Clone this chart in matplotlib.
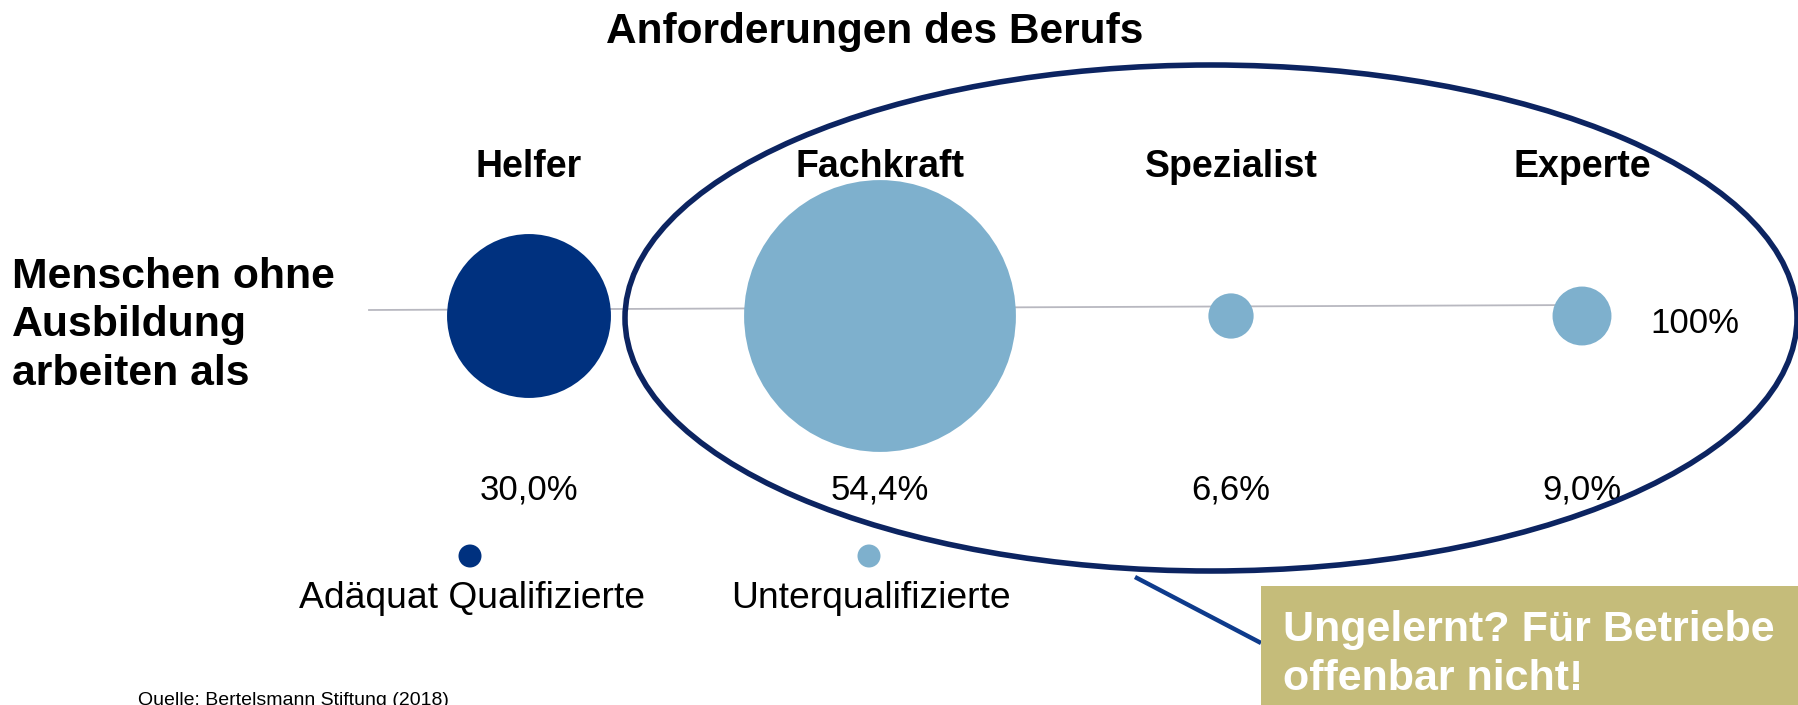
import numpy as np
import matplotlib
matplotlib.use("Agg")
import matplotlib.pyplot as plt
from matplotlib.patches import Ellipse, Rectangle

# Daten
categories = ["Helfer", "Fachkraft", "Spezialist", "Experte"]
shares = [30.0, 54.4, 6.6, 9.0]
share_labels = ["30,0%", "54,4%", "6,6%", "9,0%"]
groups = ["Adäquat Qualifizierte", "Unterqualifizierte", "Unterqualifizierte", "Unterqualifizierte"]
legend_labels = ["Adäquat Qualifizierte", "Unterqualifizierte"]
total_label = "100%"
row_title = ["Menschen ohne", "Ausbildung", "arbeiten als"]
callout = ["Ungelernt? Für Betriebe", "offenbar nicht!"]

DARK = "#00317F"
LIGHT = "#7EB0CD"
NAVY = "#0C2461"
colors = {"Adäquat Qualifizierte": DARK, "Unterqualifizierte": LIGHT}

plt.rcParams["font.family"] = ["Liberation Sans", "DejaVu Sans"]

W, H, DPI = 1798, 705, 100
fig = plt.figure(figsize=(W / DPI, H / DPI), dpi=DPI)
ax = fig.add_axes([0, 0, 1, 1])
ax.set_xlim(0, W)
ax.set_ylim(H, 0)
ax.axis("off")

# Layout (Pixel)
cat_x = 529 + 351 * np.arange(len(categories))
row_y = 316
px2pt = 72 / DPI

# Titel
ax.text(875, 43, "Anforderungen des Berufs", ha="center", va="baseline",
        fontsize=30.5, fontweight="bold")

# Kategorien
for x, name in zip(cat_x, categories):
    ax.text(x, 177, name, ha="center", va="baseline", fontsize=27, fontweight="bold")

# Linke Beschriftung
for y, line in zip([288, 336, 385], row_title):
    ax.text(12, y, line, ha="left", va="baseline", fontsize=30.8, fontweight="bold")

# Verbindungslinie
ax.plot([369, cat_x[-1]], [310, 305], color="#B8B8C0", lw=1.3, zorder=1)

# Blasen
diam_px = 9.1 * np.array(shares) ** 0.85
sizes = (diam_px * px2pt) ** 2
ax.scatter(cat_x, [row_y] * len(cat_x), s=sizes,
           c=[colors[g] for g in groups], edgecolors="none", zorder=3)

# Prozentwerte
for x, lab in zip(cat_x, share_labels):
    ax.text(x, 500, lab, ha="center", va="baseline", fontsize=25)
ax.text(1695, 333, total_label, ha="center", va="baseline", fontsize=25)

# Legende
leg_x = [470, 869]
for x, lab in zip(leg_x, legend_labels):
    ax.scatter([x], [556], s=(23 * px2pt) ** 2, color=colors[lab], edgecolors="none")
    ax.text(x + 2, 608, lab, ha="center", va="baseline", fontsize=26.8)

# Ellipse um die Unterqualifizierten
ax.add_patch(Ellipse((1211, 318), 1172, 506, angle=0, fill=False,
                     edgecolor=NAVY, lw=4.0, zorder=4))

# Hinweis-Box
ax.plot([1135, 1261], [577, 643], color="#0E3B8C", lw=3.2, zorder=4, solid_capstyle="butt")
ax.add_patch(Rectangle((1261, 586), W - 1261, H - 586, facecolor="#C5BC7A",
                       edgecolor="none", zorder=5))
for y, line in zip([641, 690], callout):
    ax.text(1283, y, line, ha="left", va="baseline", fontsize=31, fontweight="bold",
            color="white", zorder=6)

# Quelle
ax.text(138, 705, "Quelle: Bertelsmann Stiftung (2018)", ha="left", va="baseline",
        fontsize=14)

fig.savefig("out.png", dpi=DPI)
